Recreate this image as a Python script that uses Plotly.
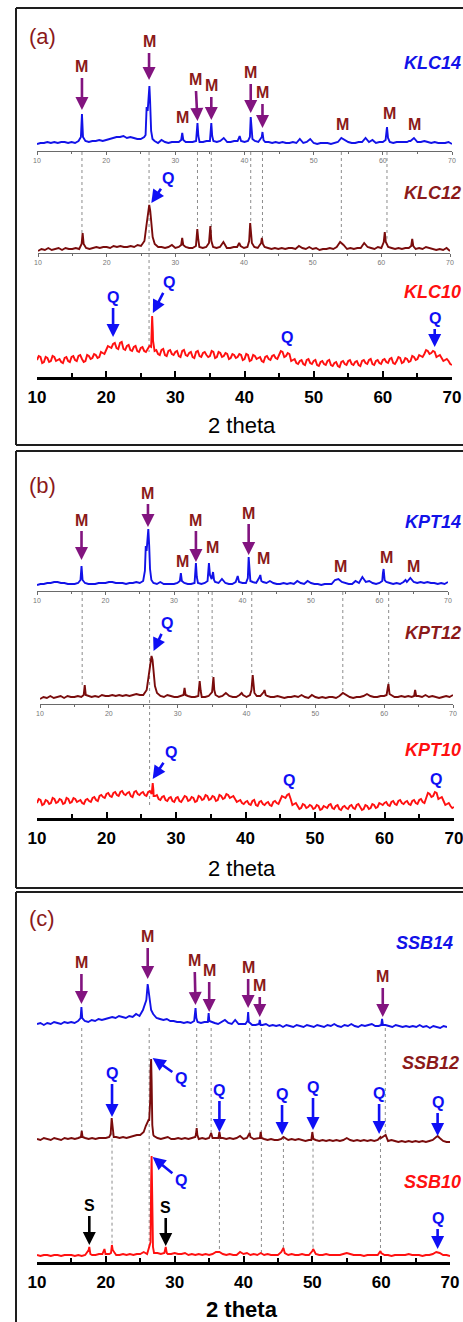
import numpy as np
import plotly.graph_objects as go

W, H = 463, 1322
FONT = "Liberation Sans, Arial, Helvetica, sans-serif"

# 2-theta grids on which the patterns were read (0.5 deg steps, plus half-steps for noisy scans)
TT = [round(10 + 0.5 * i, 2) for i in range(121)]
TT_MID = [round(10.25 + 0.5 * i, 2) for i in range(120)]

# ---------------- panel (a) ----------------
klc14_bg = [7, 8, 8, 9, 8, 9, 8, 9, 9, 8,
            9, 8, 10, 37, 10, 9, 10, 10, 11, 10,
            11, 12, 13, 14, 14, 15, 13, 14, 13, 12,
            12, 14, 40, 20, 10, 8, 11, 9, 8, 9,
            9, 9, 18, 9, 9, 9, 10, 9, 9, 10,
            10, 10, 9, 10, 13, 9, 9, 10, 10, 10,
            9, 10, 22, 10, 9, 14, 9, 9, 8, 9,
            8, 9, 8, 8, 9, 8, 12, 8, 9, 12,
            8, 7, 8, 8, 8, 7, 8, 9, 13, 11,
            9, 8, 8, 9, 9, 13, 9, 11, 8, 9,
            9, 18, 9, 8, 9, 9, 9, 9, 10, 13,
            9, 9, 10, 9, 8, 9, 8, 8, 8, 9,
            7]
klc14_pk_x = [16.35, 16.65, 25.7, 25.85, 26.15, 26.25, 26.35, 26.7, 30.85, 31.15,
              33.07, 33.2, 33.33, 35.07, 35.2, 35.33, 39.3, 40.78, 40.9, 41.15,
              42.6, 42.75, 60.4, 60.6, 60.75, 63.8]
klc14_pk_y = [14, 14, 16, 44, 60, 65, 50, 12, 11, 11,
              15, 28, 15, 15, 28, 15, 15, 14, 34, 12,
              19, 11, 11, 24, 13, 10]

klc12_bg = [2, 4, 3, 5, 3, 4, 5, 3, 5, 4,
            4, 5, 4, 20, 5, 4, 5, 6, 5, 6,
            6, 5, 7, 6, 7, 6, 6, 7, 6, 8,
            7, 12, 40, 26, 9, 6, 6, 5, 6, 8,
            5, 6, 15, 6, 5, 5, 7, 6, 5, 6,
            18, 6, 5, 6, 11, 5, 5, 6, 6, 7,
            5, 6, 22, 6, 5, 10, 6, 5, 4, 5,
            4, 5, 4, 5, 5, 4, 7, 5, 4, 6,
            4, 5, 3, 4, 4, 5, 4, 6, 11, 8,
            4, 5, 4, 5, 5, 10, 6, 5, 4, 6,
            5, 21, 6, 5, 4, 5, 4, 5, 5, 14,
            4, 5, 4, 6, 5, 4, 3, 4, 3, 5,
            2]
klc12_pk_x = [16.35, 16.65, 25.8, 26.2, 26.35, 26.7, 30.85, 31.15, 33.07, 33.2, 33.35,
              34.9, 35.1, 35.25, 39.3, 40.75, 40.9, 41.15, 42.6, 42.75, 60.35, 60.65,
              64.35, 64.65]
klc12_pk_y = [9, 9, 28, 48, 42, 16, 8, 8, 14, 24, 13,
              10, 27, 12, 10, 12, 30, 10, 15, 9, 11, 11,
              7, 7]

klc10_bg = [17, 20, 15, 19, 16, 20, 17, 15, 19, 16,
            20, 17, 21, 18, 16, 21, 19, 22, 20, 24,
            27, 30, 33, 29, 34, 28, 31, 27, 30, 26,
            29, 26, 28, 30, 26, 23, 27, 22, 26, 23,
            25, 21, 26, 22, 24, 20, 25, 21, 24, 22,
            21, 25, 20, 24, 21, 23, 19, 22, 20, 22,
            18, 22, 17, 21, 19, 16, 20, 18, 21, 19,
            22, 25, 21, 23, 17, 14, 16, 13, 17, 14,
            16, 12, 15, 13, 16, 12, 14, 11, 15, 13,
            16, 13, 15, 12, 16, 14, 17, 13, 16, 14,
            17, 15, 18, 14, 16, 19, 15, 18, 16, 20,
            18, 21, 23, 26, 24, 25, 21, 19, 17, 16,
            12]
klc10_mid = [21, 14, 20, 15, 21, 16, 18, 14, 20, 15,
             21, 16, 22, 15, 22, 18, 23, 19, 25, 23,
             31, 29, 34, 28, 35, 27, 32, 26, 31, 25,
             30, 25, 31, 45, 27, 22, 28, 21, 27, 22,
             26, 20, 27, 21, 25, 19, 26, 20, 25, 20,
             26, 19, 25, 20, 24, 18, 23, 19, 23, 17,
             23, 16, 22, 18, 20, 15, 21, 17, 22, 18,
             26, 20, 24, 16, 18, 13, 17, 12, 18, 13,
             17, 11, 16, 12, 17, 11, 15, 10, 16, 12,
             17, 12, 16, 11, 17, 13, 18, 12, 17, 13,
             18, 14, 19, 13, 20, 14, 19, 15, 21, 17,
             22, 20, 27, 23, 26, 20, 22, 16, 18, 13]
klc10_pk_x = [26.55, 26.65, 26.78]
klc10_pk_y = [48, 61, 36]

# ---------------- panel (b) ----------------
kpt14_bg = [6, 7, 7, 8, 8, 9, 9, 8, 8, 7,
            7, 7, 8, 25, 8, 7, 7, 7, 8, 8,
            8, 9, 9, 8, 8, 8, 7, 8, 8, 9,
            8, 10, 40, 22, 8, 7, 9, 7, 7, 7,
            7, 8, 18, 8, 7, 7, 8, 8, 7, 8,
            20, 12, 9, 8, 12, 8, 7, 7, 9, 9,
            8, 8, 22, 9, 8, 14, 9, 8, 10, 8,
            7, 7, 8, 7, 8, 7, 10, 8, 7, 10,
            8, 7, 7, 6, 7, 7, 7, 11, 12, 9,
            8, 7, 7, 10, 8, 14, 9, 10, 8, 7,
            8, 18, 9, 8, 7, 8, 7, 9, 9, 13,
            9, 8, 9, 8, 9, 8, 8, 7, 8, 7,
            9]
kpt14_pk_x = [16.35, 16.65, 25.75, 25.88, 26.12, 26.25, 26.38, 26.7, 30.85, 31.15,
              33.07, 33.2, 33.33, 34.9, 35.1, 35.25, 35.7, 35.85, 39.3, 40.78, 40.9, 41.15,
              42.6, 42.75, 60.4, 60.6, 60.75, 63.8]
kpt14_pk_y = [11, 11, 20, 45, 55, 62, 45, 11, 10, 10,
              15, 28, 14, 10, 28, 16, 19, 11, 15, 13, 34, 10,
              16, 10, 10, 22, 11, 11]

kpt12_bg = [5, 7, 6, 8, 6, 7, 8, 6, 8, 7,
            7, 8, 7, 19, 8, 7, 8, 7, 9, 8,
            8, 9, 8, 9, 8, 9, 8, 9, 10, 9,
            9, 14, 38, 30, 11, 8, 7, 9, 8, 7,
            7, 8, 16, 8, 7, 7, 8, 7, 7, 8,
            12, 9, 7, 8, 11, 8, 7, 7, 9, 9,
            7, 9, 22, 8, 8, 12, 8, 7, 7, 8,
            7, 6, 7, 7, 8, 7, 9, 7, 6, 9,
            7, 6, 7, 6, 7, 7, 6, 8, 11, 9,
            7, 6, 7, 7, 8, 10, 8, 7, 7, 8,
            8, 16, 9, 7, 7, 8, 7, 8, 7, 14,
            8, 7, 9, 7, 8, 7, 6, 7, 8, 7,
            9]
kpt12_pk_x = [16.35, 16.65, 25.8, 26.2, 26.35, 26.7, 30.85, 31.15, 33.07, 33.2, 33.35,
              35.08, 35.2, 35.32, 39.3, 40.72, 40.9, 41.15, 42.62, 42.78, 60.35, 60.62, 60.78,
              64.35, 64.65]
kpt12_pk_y = [9, 9, 28, 48, 44, 18, 9, 9, 14, 23, 13,
              18, 27, 14, 11, 14, 29, 11, 14, 9, 9, 20, 10,
              8, 8]

kpt10_bg = [15, 18, 14, 17, 15, 19, 16, 18, 15, 19,
            16, 19, 17, 15, 18, 17, 20, 18, 22, 21,
            24, 22, 25, 23, 26, 24, 25, 22, 26, 24,
            25, 23, 26, 24, 22, 19, 21, 18, 20, 17,
            20, 17, 19, 21, 18, 20, 17, 21, 19, 22,
            19, 21, 18, 22, 20, 23, 21, 19, 17, 15,
            16, 14, 17, 13, 16, 14, 15, 13, 16, 15,
            18, 21, 23, 19, 14, 12, 10, 13, 11, 12,
            10, 12, 9, 11, 13, 10, 12, 9, 11, 10,
            12, 10, 13, 11, 9, 12, 10, 13, 11, 14,
            15, 13, 16, 14, 17, 15, 16, 14, 17, 15,
            18, 16, 20, 24, 22, 25, 20, 17, 14, 12,
            11]
kpt10_mid = [19, 13, 18, 14, 20, 15, 19, 14, 20, 15,
             20, 16, 18, 14, 19, 16, 21, 17, 23, 20,
             25, 21, 26, 22, 27, 23, 26, 21, 27, 23,
             26, 22, 27, 28, 23, 18, 22, 17, 21, 16,
             21, 16, 22, 17, 21, 16, 22, 18, 23, 18,
             22, 17, 23, 19, 24, 20, 22, 16, 18, 14,
             17, 13, 18, 12, 17, 13, 16, 12, 17, 14,
             22, 20, 24, 13, 15, 9, 14, 10, 13, 9,
             13, 8, 12, 10, 14, 9, 13, 8, 12, 9,
             13, 9, 14, 8, 13, 9, 14, 10, 15, 13,
             16, 12, 17, 13, 18, 14, 17, 13, 18, 14,
             19, 15, 25, 21, 26, 19, 21, 13, 15, 10]
kpt10_pk_x = [26.55, 26.65, 26.78]
kpt10_pk_y = [30, 35, 22]

# ---------------- panel (c) ----------------
ssb14_bg = [16, 17, 15, 17, 16, 18, 17, 16, 18, 17,
            18, 17, 19, 33, 19, 18, 20, 19, 21, 20,
            21, 22, 23, 22, 24, 23, 22, 24, 23, 26,
            24, 30, 40, 38, 26, 22, 21, 20, 21, 19,
            19, 18, 18, 17, 18, 17, 19, 18, 17, 18,
            18, 18, 17, 16, 18, 20, 17, 16, 20, 16,
            16, 16, 18, 15, 15, 16, 15, 16, 14, 15,
            14, 15, 13, 15, 14, 13, 15, 14, 13, 15,
            14, 13, 15, 14, 13, 15, 14, 16, 14, 13,
            15, 14, 16, 14, 13, 15, 14, 15, 16, 14,
            14, 21, 15, 14, 13, 15, 14, 13, 14, 13,
            14, 13, 15, 13, 14, 12, 14, 13, 12, 14,
            13]
ssb14_pk_x = [16.38, 16.62, 25.8, 26.2, 26.3, 26.7, 33.1, 33.2, 33.32,
              35.02, 35.12, 35.22, 40.8, 40.9, 42.6, 42.72, 60.38, 60.62]
ssb14_pk_y = [22, 22, 36, 56, 50, 30, 24, 32, 22,
              20, 27, 19, 19, 28, 20, 15, 15, 15]

ssb12_bg = [11, 10, 12, 11, 10, 12, 11, 10, 12, 11,
            12, 11, 12, 19, 12, 11, 12, 11, 12, 12,
            12, 13, 24, 13, 12, 13, 12, 13, 14, 15,
            15, 18, 28, 80, 14, 12, 11, 12, 13, 11,
            11, 12, 11, 12, 11, 12, 13, 11, 12, 11,
            12, 12, 12, 18, 12, 11, 12, 11, 12, 14,
            11, 12, 13, 11, 12, 18, 11, 10, 11, 10,
            10, 11, 12, 10, 11, 10, 11, 10, 9, 10,
            18, 10, 9, 10, 9, 10, 9, 10, 9, 10,
            12, 10, 9, 10, 9, 10, 9, 10, 9, 10,
            12, 14, 9, 10, 9, 8, 9, 8, 9, 8,
            9, 8, 9, 8, 9, 10, 13, 12, 9, 8,
            8]
ssb12_pk_x = [16.38, 16.62, 20.7, 20.85, 21.15, 25.8, 26.2, 26.3, 26.45, 26.58, 26.65,
              26.75, 26.9, 33.1, 33.2, 33.3, 35.3, 36.35, 36.65, 40.9, 42.38, 42.62,
              45.8, 49.85, 50.15, 59.9, 60.65, 68.2]
ssb12_pk_y = [13, 13, 16, 32, 13, 24, 30, 30, 50, 91, 70,
              25, 15, 16, 22, 15, 17, 12, 12, 17, 12, 12,
              13, 10, 11, 13, 15, 14]

ssb10_bg = [7, 6, 7, 7, 6, 7, 7, 6, 7, 7,
            7, 6, 7, 6, 7, 12, 7, 7, 8, 8,
            8, 8, 12, 7, 7, 8, 7, 8, 7, 8,
            8, 10, 8, 20, 9, 9, 8, 9, 8, 8,
            9, 8, 8, 9, 7, 8, 7, 8, 7, 8,
            7, 8, 10, 10, 8, 7, 8, 7, 7, 10,
            8, 9, 7, 8, 7, 9, 7, 8, 7, 7,
            7, 10, 9, 7, 8, 7, 7, 8, 7, 7,
            11, 8, 7, 7, 8, 7, 7, 7, 7, 8,
            9, 8, 7, 7, 7, 6, 7, 7, 7, 7,
            9, 7, 7, 6, 7, 7, 7, 7, 8, 7,
            7, 7, 6, 7, 7, 8, 10, 9, 7, 7,
            6]
ssb10_pk_x = [17.6, 17.75, 19.8, 19.95, 20.75, 20.88, 26.58, 26.65, 26.73, 26.85,
              28.7, 28.85, 45.8, 50.12, 59.9]
ssb10_pk_y = [15, 8, 13, 8, 9, 17, 80, 106, 70, 15,
              15, 9, 14, 13, 11]

# reference (dotted) line positions, 2theta
a_lines = [16.5, 26.2, 33.2, 35.2, 40.9, 42.6, 54.0, 60.6]
a_long = [26.2]
b_lines = [16.5, 26.2, 33.2, 35.2, 40.9, 54.0, 60.6]
b_long = [26.2]
c_m_lines = [16.5, 26.3, 33.2, 35.3, 40.9, 42.6, 60.6]
c_long = [26.3, 42.6]
c_q_lines = [20.9, 36.5, 45.8, 50.1, 59.9]

TICKS = [10, 20, 30, 40, 50, 60, 70]
MINOR = [15, 25, 35, 45, 55, 65]


def merge(bg, pk_x, pk_y, mid=None):
    pts = dict(zip(TT, bg))
    if mid is not None:
        pts.update(zip(TT_MID, mid))
    pts.update(zip(pk_x, pk_y))
    xs = sorted(pts)
    return xs, [pts[k] for k in xs]


BLUE = "#1212E8"
DRED = "#7A0C0C"
RED = "#FF1010"
MTXT = "#8B1A1A"
PURP = "#82147F"
QBLUE = "#0F0FF5"

# name, series, colour, x0px, x1px, axis-line px, top px, axis style
panels = [
    ("KLC14", merge(klc14_bg, klc14_pk_x, klc14_pk_y), BLUE, 37, 452, 151, 40, "small"),
    ("KLC12", merge(klc12_bg, klc12_pk_x, klc12_pk_y), DRED, 38, 450, 253, 165, "small"),
    ("KLC10", merge(klc10_bg, klc10_pk_x, klc10_pk_y, klc10_mid), RED, 37, 452, 377, 270, "bold"),
    ("KPT14", merge(kpt14_bg, kpt14_pk_x, kpt14_pk_y), BLUE, 37, 448, 591, 480, "small"),
    ("KPT12", merge(kpt12_bg, kpt12_pk_x, kpt12_pk_y), DRED, 40, 453, 704, 610, "small"),
    ("KPT10", merge(kpt10_bg, kpt10_pk_x, kpt10_pk_y, kpt10_mid), RED, 37, 454, 818, 720, "bold"),
    ("SSB14", merge(ssb14_bg, ssb14_pk_x, ssb14_pk_y), BLUE, 37, 447, 1040, 925, "none"),
    ("SSB12", merge(ssb12_bg, ssb12_pk_x, ssb12_pk_y), DRED, 37, 450, 1150, 1045, "none"),
    ("SSB10", merge(ssb10_bg, ssb10_pk_x, ssb10_pk_y), RED, 37, 450, 1262, 1150, "bold"),
]


def py(px):
    return 1 - px / H


def pxx(px):
    return px / W


fig = go.Figure()
layout = dict(
    width=W, height=H, autosize=False,
    margin=dict(l=0, r=0, t=0, b=0, pad=0, autoexpand=False),
    paper_bgcolor="white", plot_bgcolor="rgba(0,0,0,0)",
    showlegend=False, font=dict(family=FONT),
)

for i, (name, (xs, ys), col, x0, x1, yb, yt, style) in enumerate(panels, start=1):
    fig.add_trace(go.Scatter(x=xs, y=ys, mode="lines", name=name,
                             line=dict(color=col, width=1.9),
                             xaxis=f"x{i}", yaxis=f"y{i}", hoverinfo="skip"))
    xa = dict(domain=[pxx(x0), pxx(x1)], range=[10, 70], anchor=f"y{i}",
              showgrid=False, zeroline=False, fixedrange=True, automargin=False,
              ticklabeloverflow="allow")
    if style == "small":
        xa.update(showline=True, linecolor="#6a6a6a", linewidth=1,
                  ticks="outside", ticklen=3, tickwidth=1, tickcolor="#6a6a6a",
                  tickvals=TICKS, tickfont=dict(size=7, color="#777"),
                  minor=dict(ticks="outside", ticklen=2, tickvals=MINOR, tickcolor="#6a6a6a"))
    elif style == "bold":
        xa.update(showline=True, linecolor="black", linewidth=2.5,
                  ticks="inside", ticklen=6, tickwidth=2, tickcolor="black",
                  tickvals=TICKS, ticklabelstandoff=3,
                  tickfont=dict(size=17, color="black", family=FONT, weight="bold"),
                  minor=dict(ticks="inside", ticklen=4, tickwidth=2, tickvals=MINOR,
                             tickcolor="black"))
    else:
        xa.update(visible=False)
    layout[f"xaxis{i}" if i > 1 else "xaxis"] = xa
    layout[f"yaxis{i}" if i > 1 else "yaxis"] = dict(
        domain=[py(yb), py(yt)], range=[0, yb - yt], anchor=f"x{i}",
        visible=False, fixedrange=True, automargin=False)

fig.update_layout(**layout)


# ---- dotted reference lines ----
def val(idx, x):
    xs, ys = panels[idx][1]
    return float(np.interp(x, xs, ys))


def base(idx):
    return panels[idx][5]


shapes = []


def vline(xref, x, y0px, y1px):
    shapes.append(dict(type="line", xref=xref, yref="paper", x0=x, x1=x,
                       y0=py(y0px), y1=py(y1px), layer="below",
                       line=dict(color="#8c8c8c", width=1, dash="dot")))


for x in a_lines:
    end = 352 if x in a_long else base(1) - val(1, x)
    vline("x3", x, 152, end)
for x in b_lines:
    end = 808 if x in b_long else base(4) - val(4, x)
    vline("x6", x, 592, end)
for x in c_m_lines:
    end = base(8) - val(8, x) if x in c_long else base(7) - val(7, x)
    vline("x9", x, 1028, end)
for x in c_q_lines:
    vline("x9", x, base(7) - val(7, x), base(8) - val(8, x))


# panel frames (open on the right, where the figure is cropped)
def seg(x0, y0, x1, y1):
    shapes.append(dict(type="line", xref="paper", yref="paper",
                       x0=pxx(x0), x1=pxx(x1), y0=py(y0), y1=py(y1),
                       line=dict(color="#1e1e1e", width=2)))


for top, bot in [(8, 445), (451, 888), (892, 1322)]:
    seg(16, top, 463, top)
    seg(16, top, 16, bot)
    if bot < 1322:
        seg(16, bot, 463, bot)
fig.update_layout(shapes=shapes)

# ---- annotations ----
ann = []


def arrow(sp, text, tcol, acol, x, tip_px, dx, dy):
    yb = panels[sp - 1][5]
    ann.append(dict(xref=f"x{sp}", yref=f"y{sp}", x=x, y=yb - tip_px,
                    ax=dx, ay=dy, text=text, showarrow=True,
                    arrowhead=2, arrowsize=1.0, arrowwidth=2.6, arrowcolor=acol,
                    standoff=0, startstandoff=1,
                    font=dict(size=16, color=tcol, family=FONT, weight="bold")))


def label(sp, text, tcol, x, cy_px):
    yb = panels[sp - 1][5]
    ann.append(dict(xref=f"x{sp}", yref=f"y{sp}", x=x, y=yb - cy_px,
                    text=text, showarrow=False,
                    font=dict(size=16, color=tcol, family=FONT, weight="bold")))


# (a)
for x, tip, dx, dy in [(16.5, 110, 0, -43), (26.2, 80, 0, -38), (33.2, 121, -2, -41),
                       (35.2, 120, 0, -34), (40.9, 113, 0, -40), (42.6, 128, 0, -35)]:
    arrow(1, "M", MTXT, PURP, x, tip, dx, dy)
for x, cy in [(31.0, 118), (54.1, 125), (61.0, 114), (64.6, 125)]:
    label(1, "M", MTXT, x, cy)
arrow(2, "Q", QBLUE, QBLUE, 26.5, 203, 17, -25)
arrow(3, "Q", QBLUE, QBLUE, 21.0, 337, 0, -40)
arrow(3, "Q", QBLUE, QBLUE, 26.75, 313, 16, -31)
arrow(3, "Q", QBLUE, QBLUE, 67.5, 347, 0, -29)
label(3, "Q", QBLUE, 46.1, 337)

# (b)
for x, tip, dx, dy in [(16.5, 560, 0, -40), (26.2, 527, 0, -34), (33.2, 562, 0, -42),
                       (40.9, 555, 0, -42)]:
    arrow(4, "M", MTXT, PURP, x, tip, dx, dy)
for x, cy in [(31.3, 561), (35.6, 547), (43.0, 558), (54.3, 566), (61.0, 557), (64.9, 566)]:
    label(4, "M", MTXT, x, cy)
arrow(5, "Q", QBLUE, QBLUE, 26.5, 651, 13, -28)
arrow(6, "Q", QBLUE, QBLUE, 26.65, 779, 18, -27)
label(6, "Q", QBLUE, 46.2, 780)
label(6, "Q", QBLUE, 67.4, 779)

# (c)
for x, tip, dx, dy in [(16.5, 1004, 0, -41), (26.2, 979, 0, -42), (33.2, 1005, -1, -44),
                       (35.2, 1012, 0, -41), (40.9, 1008, 0, -40), (42.6, 1017, 0, -31),
                       (60.6, 1017, 0, -40)]:
    arrow(7, "M", MTXT, PURP, x, tip, dx, dy)
for x, tip, dx, dy in [(20.9, 1117, 0, -44), (36.5, 1132, 0, -42), (45.6, 1135, 0, -41),
                       (50.1, 1130, 0, -43), (59.7, 1134, 0, -41), (68.2, 1136, 0, -34)]:
    arrow(8, "Q", QBLUE, QBLUE, x, tip, dx, dy)
arrow(8, "Q", QBLUE, QBLUE, 26.8, 1058, 28, 20)
arrow(9, "S", "black", "black", 17.6, 1245, 0, -40)
arrow(9, "S", "black", "black", 28.7, 1246, 0, -39)
arrow(9, "Q", QBLUE, QBLUE, 26.8, 1157, 28, 23)
arrow(9, "Q", QBLUE, QBLUE, 68.2, 1249, 0, -31)

# sample names
for text, col, xr, cy in [("KLC14", BLUE, 461, 63), ("KLC12", MTXT, 461, 193),
                          ("KLC10", RED, 461, 292), ("KPT14", BLUE, 461, 522),
                          ("KPT12", MTXT, 461, 633), ("KPT10", RED, 461, 750),
                          ("SSB14", BLUE, 453, 943), ("SSB12", MTXT, 459, 1063),
                          ("SSB10", RED, 461, 1182)]:
    ann.append(dict(xref="paper", yref="paper", x=pxx(xr), y=py(cy), xanchor="right",
                    yanchor="middle", text=f"<i>{text}</i>", showarrow=False,
                    borderpad=0, borderwidth=0,
                    font=dict(size=18, color=col, family=FONT, weight="bold")))

# panel letters and axis titles
for text, cy in [("(a)", 36), ("(b)", 485), ("(c)", 918)]:
    ann.append(dict(xref="paper", yref="paper", x=pxx(42), y=py(cy), text=text,
                    showarrow=False, xanchor="center", yanchor="middle",
                    font=dict(size=22, color="#8B1A1A", family=FONT)))
for cy, wt in [(425, "normal"), (868, "normal"), (1309, "bold")]:
    ann.append(dict(xref="paper", yref="paper", x=pxx(242), y=py(cy), text="2 theta",
                    showarrow=False, xanchor="center", yanchor="middle",
                    borderpad=0, borderwidth=0,
                    font=dict(size=22, color="black", family=FONT, weight=wt)))

fig.update_layout(annotations=ann)
fig.write_html("out.html",
               config={"displayModeBar": False, "responsive": False},
               post_script="document.body.style.margin='0px';"
                           "document.body.style.padding='0px';"
                           "document.documentElement.style.overflow='hidden';")
